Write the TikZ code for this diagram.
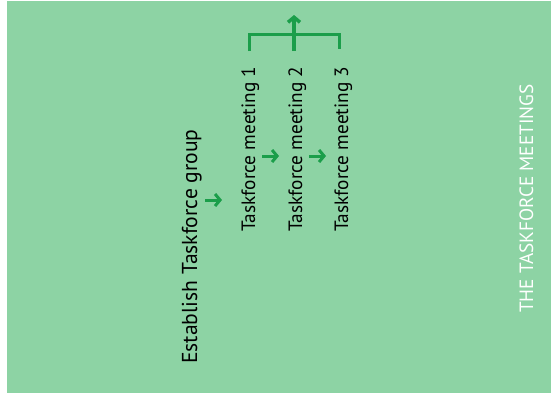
\documentclass[tikz,border=0pt]{standalone}
\usepackage{fontspec}
\setmainfont{PT Sans}
\usetikzlibrary{arrows.meta}
\definecolor{bg}{RGB}{141,211,164}
\definecolor{gline}{RGB}{27,158,74}
\tikzset{
  lbl/.style={rotate=90, anchor=base west, inner sep=0pt, text=black, font=\fontsize{19.3}{23}\selectfont},
  bigl/.style={lbl, font=\fontsize{21.6}{25}\selectfont},
  ttl/.style={rotate=90, anchor=base west, inner sep=0pt, text=white, font=\fontsize{19.2}{22}\selectfont},
  garr/.style={draw=gline, line width=3pt, -{Straight Barb[length=5pt,width=12pt,line width=3pt]}},
  brk/.style={draw=gline, line width=3.5pt},
  brkarr/.style={brk, -{Straight Barb[length=5pt,width=12pt,line width=3.5pt]}}
}
\begin{document}
\begin{tikzpicture}[x=1pt,y=-1pt]
\useasboundingbox (0,0) rectangle (551,394);
\fill[bg] (7,0.5) rectangle (551,393);
% texts
\node[bigl] (est) at (197,364) {Establish Taskforce group};
\node[lbl] (tm1) at (255,232) {Taskforce meeting 1};
\node[lbl] (tm2) at (302,232) {Taskforce meeting 2};
\node[lbl] (tm3) at (348,232) {Taskforce meeting 3};
\node[ttl] (title) at (533,313) {THE TASKFORCE MEETINGS};
% small arrows
\coordinate (a1s) at (205,200); \coordinate (a1e) at (222,200);
\coordinate (a2s) at (262,156); \coordinate (a2e) at (279,156);
\coordinate (a3s) at (309,156); \coordinate (a3e) at (326,156);
\draw[garr] (a1s) -- (a1e);
\draw[garr] (a2s) -- (a2e);
\draw[garr] (a3s) -- (a3e);
% bracket
\coordinate (b1) at (249.5,51);
\coordinate (b2) at (294,51);
\coordinate (b3) at (339.5,49);
\coordinate (bar) at (294,34.5);
\coordinate (up) at (294,15);
\draw[brk, line join=miter] (b1) |- (bar) -| (b3);
\draw[brkarr] (b2) -- (up);
\end{tikzpicture}
\end{document}
